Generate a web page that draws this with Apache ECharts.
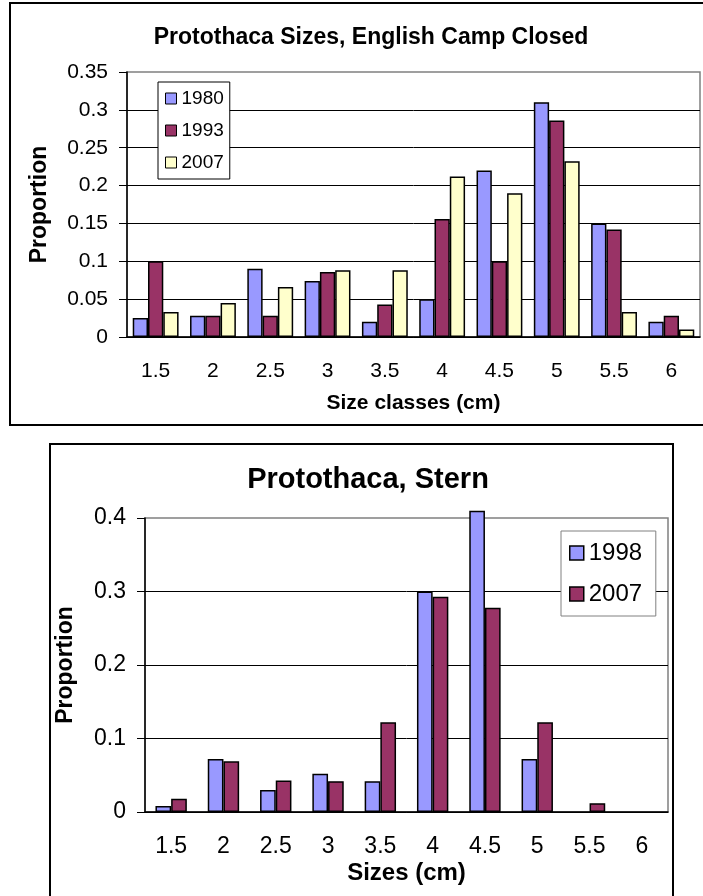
<!DOCTYPE html>
<html>
<head>
<meta charset="utf-8">
<script src="https://cdn.jsdelivr.net/npm/echarts@6/dist/echarts.min.js"></script>
<style>
	html, body { margin: 0; padding: 0; background: #fff; }
	#chart { width: 703px; height: 896px; }
</style>
</head>
<body>
<div id="chart"></div>
<script>
// size classes (cm)
var sizes = ['1.5', '2', '2.5', '3', '3.5', '4', '4.5', '5', '5.5', '6'];

// English Camp Closed
var camp1980 = [0.025, 0.028, 0.09, 0.074, 0.02, 0.05, 0.22, 0.31, 0.15, 0.02];
var camp1993 = [0.1, 0.028, 0.028, 0.086, 0.043, 0.156, 0.1, 0.286, 0.142, 0.028];
var camp2007 = [0.033, 0.045, 0.066, 0.088, 0.088, 0.212, 0.19, 0.232, 0.033, 0.01];

// Stern
var stern1998 = [0.008, 0.072, 0.03, 0.052, 0.042, 0.3, 0.41, 0.072, null, null];
var stern2007 = [0.018, 0.069, 0.043, 0.042, 0.122, 0.293, 0.278, 0.122, 0.012, null];

var font = 'Arial, "Liberation Sans", sans-serif';
var blue = '#9999ff', plum = '#993366', cream = '#ffffcc';

var myChart = echarts.init(document.getElementById('chart'));

function barSeries(name, data, color, xi, gap) {
	return {
		name: name,
		type: 'bar',
		xAxisIndex: xi,
		yAxisIndex: xi,
		data: data,
		barGap: '0%',
		barCategoryGap: gap,
		clip: false,
		itemStyle: { color: color, borderColor: '#000', borderWidth: 1.5 }
	};
}

var option = {
	backgroundColor: '#fff',
	textStyle: { fontFamily: font, color: '#000' },
	animation: false,
	title: [{
		text: 'Protothaca Sizes, English Camp Closed',
		left: 366, top: 21, textAlign: 'center',
		textStyle: { fontFamily: font, fontSize: 23, fontWeight: 'bold', color: '#000' }
	}, {
		text: 'Protothaca, Stern',
		left: 363, top: 460, textAlign: 'center',
		textStyle: { fontFamily: font, fontSize: 29, fontWeight: 'bold', color: '#000' }
	}],
	graphic: [{
		type: 'rect', shape: { x: 10, y: 3, width: 720, height: 422 },
		style: { fill: null, stroke: '#000', lineWidth: 2 }, z: -1
	}, {
		type: 'rect', shape: { x: 50, y: 444, width: 623, height: 500 },
		style: { fill: null, stroke: '#000', lineWidth: 2 }, z: -1
	}],
	legend: [{
		data: ['1980', '1993', '2007'],
		orient: 'vertical',
		left: 158, top: 82,
		padding: [7, 6, 7, 7],
		itemGap: 13,
		itemWidth: 11, itemHeight: 11,
		icon: 'rect',
		backgroundColor: '#fff',
		borderColor: '#000', borderWidth: 1,
		itemStyle: { borderColor: '#000', borderWidth: 1 },
		textStyle: { fontFamily: font, fontSize: 19, color: '#000' }
	}, {
		data: ['1998', '2007 '],
		orient: 'vertical',
		left: 561, top: 531,
		padding: [10, 7, 10, 8],
		itemGap: 17,
		itemWidth: 14, itemHeight: 14,
		icon: 'rect',
		backgroundColor: '#fff',
		borderColor: '#808080', borderWidth: 1,
		itemStyle: { borderColor: '#000', borderWidth: 1.5 },
		textStyle: { fontFamily: font, fontSize: 24, color: '#000' }
	}],
	grid: [{
		left: 127, top: 72, width: 573, height: 265,
		show: true, backgroundColor: '#fff', borderColor: '#808080', borderWidth: 1.5
	}, {
		left: 145, top: 518, width: 523, height: 294,
		show: true, backgroundColor: '#fff', borderColor: '#808080', borderWidth: 1.5
	}],
	xAxis: [{
		type: 'category', gridIndex: 0, data: sizes,
		name: 'Size classes (cm)', nameLocation: 'middle', nameGap: 56,
		nameTextStyle: { fontFamily: font, fontSize: 21, fontWeight: 'bold', color: '#000' },
		axisLine: { lineStyle: { color: '#000', width: 1.5 } },
		axisTick: { length: 7, lineStyle: { color: '#000' } },
		axisLabel: { margin: 24, fontFamily: font, fontSize: 21, color: '#000' }
	}, {
		type: 'category', gridIndex: 1, data: sizes,
		name: 'Sizes (cm)', nameLocation: 'middle', nameGap: 49,
		nameTextStyle: { fontFamily: font, fontSize: 24, fontWeight: 'bold', color: '#000' },
		axisLine: { lineStyle: { color: '#000', width: 1.5 } },
		axisTick: { length: 7, lineStyle: { color: '#000' } },
		axisLabel: { margin: 23, fontFamily: font, fontSize: 23, color: '#000' }
	}],
	yAxis: [{
		type: 'value', gridIndex: 0, min: 0, max: 0.35, interval: 0.05,
		name: 'Proportion', nameLocation: 'middle', nameGap: 76, nameRotate: 90,
		nameTextStyle: { fontFamily: font, fontSize: 23, fontWeight: 'bold', color: '#000' },
		axisLine: { show: true, lineStyle: { color: '#000', width: 1.5 } },
		axisTick: { show: true, length: 8, lineStyle: { color: '#000' } },
		axisLabel: { margin: 19, fontFamily: font, fontSize: 21, color: '#000' },
		splitLine: { showMaxLine: false, lineStyle: { color: '#000', width: 1 } }
	}, {
		type: 'value', gridIndex: 1, min: 0, max: 0.4, interval: 0.1,
		name: 'Proportion', nameLocation: 'middle', nameGap: 68, nameRotate: 90,
		nameTextStyle: { fontFamily: font, fontSize: 23, fontWeight: 'bold', color: '#000' },
		axisLine: { show: true, lineStyle: { color: '#000', width: 1.5 } },
		axisTick: { show: true, length: 8, lineStyle: { color: '#000' } },
		axisLabel: { margin: 19, fontFamily: font, fontSize: 23, color: '#000' },
		splitLine: { showMaxLine: false, lineStyle: { color: '#000', width: 1 } }
	}],
	series: [
		barSeries('1980', camp1980, blue, 0, '20%'),
		barSeries('1993', camp1993, plum, 0, '20%'),
		barSeries('2007', camp2007, cream, 0, '20%'),
		barSeries('1998', stern1998, blue, 1, '40%'),
		barSeries('2007 ', stern2007, plum, 1, '40%')
	]
};

myChart.setOption(option);
</script>
</body>
</html>
